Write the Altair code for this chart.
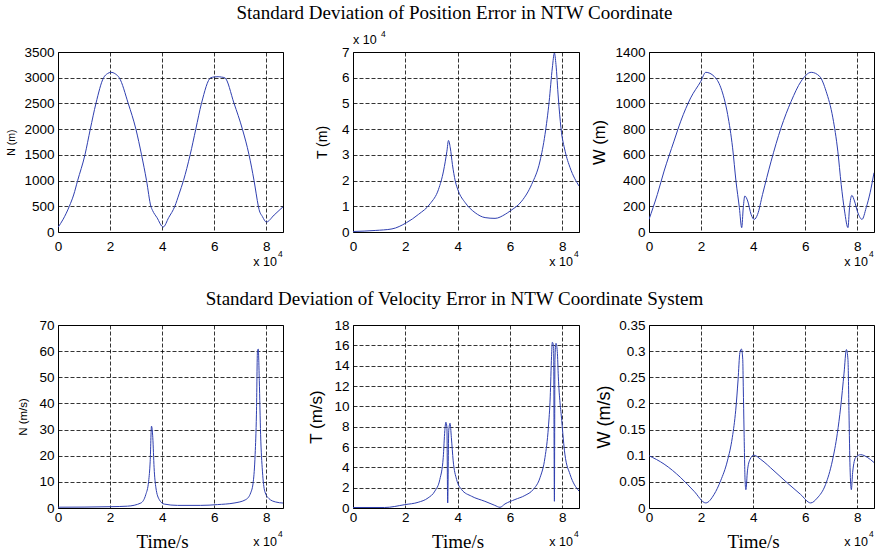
import altair as alt
import pandas as pd

# ---------------- data (x in units of 10^4 s) ----------------
n_pos_x = [0, 0.2, 0.435, 0.6, 0.754, 1.035, 1.240, 1.457, 1.751, 1.9, 2.032, 2.2, 2.352, 2.697, 2.991, 3.208, 3.400, 3.566, 3.63, 3.8, 4.039, 4.25, 4.486, 4.65, 4.818, 5.074, 5.291, 5.509, 5.866, 6.0, 6.148, 6.28, 6.403, 6.761, 7.081, 7.336, 7.528, 7.694, 7.72, 7.85, 8.001, 8.3, 8.64]
n_pos_y = [90, 250, 500, 720, 1000, 1500, 2000, 2500, 3000, 3080, 3105, 3075, 3000, 2500, 2000, 1500, 1000, 500, 420, 280, 97, 280, 500, 740, 1000, 1500, 2000, 2500, 3000, 3015, 3020, 3012, 3000, 2500, 2000, 1500, 1000, 500, 440, 300, 194, 330, 490]

t_pos_x = [0, 0.85, 1.49, 2.04, 2.51, 2.95, 3.27, 3.46, 3.59, 3.65, 3.72, 3.80, 3.91, 4.03, 4.29, 4.67, 5.05, 5.43, 5.82, 6.01, 6.45, 6.83, 7.15, 7.34, 7.50, 7.62, 7.70, 7.76, 7.85, 7.95, 8.11, 8.30, 8.64]
t_pos_y = [0.02, 0.06, 0.12, 0.36, 0.69, 1.1, 1.66, 2.37, 3.14, 3.56, 3.27, 2.63, 1.98, 1.59, 1.14, 0.75, 0.56, 0.53, 0.69, 0.82, 1.2, 1.85, 2.76, 3.79, 5.08, 6.38, 6.96, 6.51, 5.21, 4.05, 3.14, 2.50, 1.79]

w_pos_x = [0, 0.32, 0.58, 0.96, 1.22, 1.60, 1.99, 2.18, 2.50, 2.76, 3.02, 3.21, 3.34, 3.47, 3.56, 3.62, 3.68, 3.79, 3.92, 4.04, 4.17, 4.36, 4.69, 5.07, 5.46, 5.84, 6.23, 6.55, 6.80, 7.06, 7.25, 7.38, 7.51, 7.64, 7.70, 7.79, 7.89, 8.02, 8.18, 8.34, 8.49, 8.64]
w_pos_y = [98, 292, 474, 707, 862, 1043, 1172, 1242, 1211, 1121, 914, 655, 396, 189, 34, 189, 280, 241, 137, 98, 137, 292, 551, 810, 1017, 1172, 1242, 1211, 1095, 888, 629, 370, 163, 34, 189, 285, 241, 150, 98, 189, 305, 461]

n_vel_x = [0, 1.0, 2.03, 2.67, 3.18, 3.37, 3.48, 3.54, 3.59, 3.64, 3.69, 3.76, 3.89, 4.08, 4.59, 5.48, 6.12, 6.76, 7.21, 7.40, 7.50, 7.57, 7.62, 7.66, 7.69, 7.73, 7.78, 7.85, 7.94, 8.10, 8.36, 8.64]
n_vel_y = [0.3, 0.35, 0.5, 0.7, 1.9, 5.1, 10.2, 17.9, 31.3, 26.9, 15.4, 7.7, 3.2, 1.5, 1.0, 1.0, 1.3, 1.9, 3.2, 5.8, 10.2, 20.5, 35.9, 60.2, 60.8, 48.7, 28.2, 14.1, 6.4, 3.6, 2.3, 1.9]

t_vel_x = [0, 1.21, 1.98, 2.49, 2.87, 3.13, 3.32, 3.45, 3.51, 3.55, 3.59, 3.62, 3.66, 3.71, 3.76, 3.83, 3.96, 4.15, 4.53, 5.04, 5.42, 5.62, 5.81, 6.19, 6.57, 6.89, 7.15, 7.34, 7.47, 7.54, 7.59, 7.62, 7.67, 7.70, 7.72, 7.76, 7.81, 7.85, 7.98, 8.10, 8.30, 8.64]
t_vel_y = [0.05, 0.05, 0.33, 0.56, 0.99, 1.66, 2.81, 4.97, 7.6, 8.44, 7.95, 0.5, 7.6, 8.34, 6.95, 4.64, 2.81, 1.82, 1.16, 0.66, 0.26, 0.07, 0.4, 0.83, 1.23, 1.82, 2.98, 4.97, 7.95, 10.93, 14.9, 16.3, 15.9, 0.66, 14.57, 16.2, 15.4, 12.9, 8.6, 5.3, 3.3, 1.66]

w_vel_x = [0, 0.58, 1.22, 1.73, 2.18, 2.50, 2.75, 3.01, 3.20, 3.33, 3.42, 3.49, 3.55, 3.60, 3.62, 3.65, 3.69, 3.72, 3.78, 3.88, 4.03, 4.29, 4.80, 5.31, 5.82, 6.21, 6.46, 6.78, 7.04, 7.23, 7.36, 7.49, 7.58, 7.64, 7.68, 7.72, 7.77, 7.82, 7.94, 8.13, 8.38, 8.64]
w_vel_y = [0.1, 0.084, 0.058, 0.032, 0.0097, 0.026, 0.052, 0.090, 0.135, 0.187, 0.245, 0.297, 0.304, 0.284, 0.232, 0.148, 0.052, 0.035, 0.071, 0.093, 0.101, 0.093, 0.071, 0.048, 0.026, 0.0097, 0.019, 0.045, 0.090, 0.142, 0.193, 0.258, 0.303, 0.284, 0.18, 0.077, 0.035, 0.068, 0.097, 0.102, 0.097, 0.087]

x_ticks = [0, 2, 4, 6, 8]
x_max = 8.64

title_top = "Standard Deviation of Position Error in NTW Coordinate"
title_bottom = "Standard Deviation of Velocity Error in NTW Coordinate System"
x_title = "Time/s"

SANS = "Liberation Sans"
SERIF = "Liberation Serif"
LINE = "#2f3fb0"


def one():
    return pd.DataFrame({"k": [0]})


def txt(s, x, y, size, font=SANS, align="left", baseline="alphabetic"):
    return alt.Chart(one()).mark_text(
        text=s, font=font, fontSize=size, color="black", align=align, baseline=baseline
    ).encode(x=alt.value(x), y=alt.value(y))


def panel(xs, ys, W, H, ymax, yvals, yfmt, ytitle, tsize, tx, row, extra=None):
    df = pd.DataFrame({"x": xs, "y": ys})
    line = alt.Chart(df).mark_line(color=LINE, strokeWidth=1, interpolate="monotone", clip=True).encode(
        x=alt.X("x:Q", scale=alt.Scale(domain=[0, x_max], nice=False, zero=False),
                axis=alt.Axis(values=x_ticks, format="d", title=None, grid=True,
                              labelPadding=7 if row == 0 else 2)),
        y=alt.Y("y:Q", scale=alt.Scale(domain=[0, ymax], nice=False),
                axis=alt.Axis(values=yvals, format=yfmt, title=ytitle, grid=True,
                              labelPadding=4, titleFontSize=tsize, titleX=tx, titleY=H / 2,
                              titleAngle=270, titleBaseline="middle", titleAlign="center")),
    )
    layers = [line]
    if row == 0:
        layers += [txt("x 10", W - 6, H + 34, 12.5, align="right"), txt("4", W - 5, H + 25, 8.5)]
    else:
        layers += [txt("x 10", W - 6, H + 38, 12.5, align="right"), txt("4", W - 5, H + 29, 8.5),
                   txt(x_title, W / 2 - 8, H + 40, 19, font=SERIF, align="center")]
    if extra:
        layers += extra
    return alt.layer(*layers).properties(width=W, height=H)


H1, H2 = 180, 183
p1 = panel(n_pos_x, n_pos_y, 225, H1, 3500, list(range(0, 3501, 500)), "d", "N (m)", 10.5, -47, 0)
p2 = panel(t_pos_x, t_pos_y, 226, H1, 7, list(range(0, 8)), "d", "T (m)", 14, -31, 0,
           extra=[txt("x 10", 0, -8, 12.5), txt("4", 28, -15, 8.5),
                  txt(title_top, 101.5, -33, 19, font=SERIF, align="center")])
p3 = panel(w_pos_x, w_pos_y, 225, H1, 1400, list(range(0, 1401, 200)), "d", "W (m)", 16.5, -50, 0)
p4 = panel(n_vel_x, n_vel_y, 225, H2, 70, list(range(0, 71, 10)), "d", "N (m/s)", 11.5, -35, 1)
p5 = panel(t_vel_x, t_vel_y, 226, H2, 18, list(range(0, 19, 2)), "d", "T (m/s)", 17, -37, 1,
           extra=[txt(title_bottom, 101.5, -20, 19, font=SERIF, align="center")])
p6 = panel(w_vel_x, w_vel_y, 225, H2, 0.35, [0, 0.05, 0.1, 0.15, 0.2, 0.25, 0.3, 0.35], ".2~f",
           "W (m/s)", 18, -45, 1)

chart = alt.concat(p1, p2, p3, p4, p5, p6, columns=3,
                   spacing={"row": 93, "column": 70}, bounds="flush").properties(
    padding={"left": 5, "top": 3, "right": 2, "bottom": 2}, background="white"
).configure_view(stroke="black", strokeWidth=1).configure_axis(
    gridDash=[4, 2], gridColor="black", gridWidth=0.8, gridOpacity=1,
    ticks=False, tickSize=0, domain=False, labelFont=SANS, labelFontSize=13.5,
    labelColor="black", labelFlush=False, labelOverlap=False, labelBound=False,
    titleFont=SANS, titleFontWeight="normal", titleColor="black"
)

chart.save("out.html", embed_options={"renderer": "svg", "actions": False})
